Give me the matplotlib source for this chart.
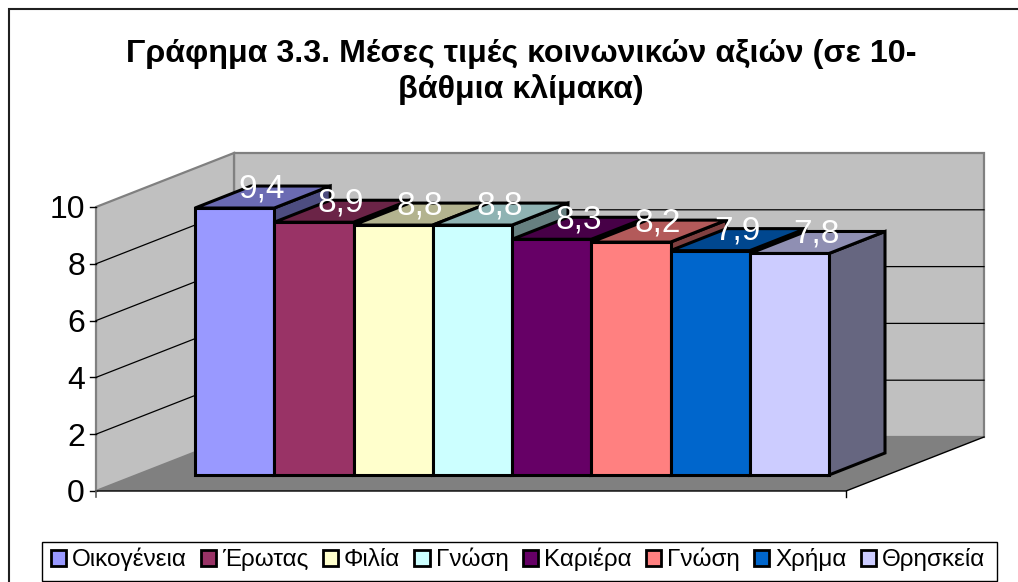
import matplotlib
matplotlib.use("Agg")
import matplotlib.pyplot as plt
from matplotlib.patches import Polygon, Rectangle

plt.rcParams['font.family'] = ['Liberation Sans', 'DejaVu Sans']

# ---- data ----
categories = ['Οικογένεια', 'Έρωτας', 'Φιλία', 'Γνώση', 'Καριέρα', 'Γνώση', 'Χρήμα', 'Θρησκεία']
values = [9.4, 8.9, 8.8, 8.8, 8.3, 8.2, 7.9, 7.8]
value_labels = ['9,4', '8,9', '8,8', '8,8', '8,3', '8,2', '7,9', '7,8']
front_colors = ['#9999FF', '#993366', '#FFFFCC', '#CCFFFF', '#660066', '#FF8080', '#0066CC', '#CCCCFF']
top_colors = ['#6B6BB3', '#6B2447', '#B3B38F', '#8FB3B3', '#470047', '#B35A5A', '#00478F', '#8F8FB3']
side_colors = ['#4D4D80', '#4D1A33', '#808066', '#668080', '#330033', '#804040', '#003366', '#666680']
y_ticks = [0, 2, 4, 6, 8, 10]
title = 'Γράφημα 3.3. Μέσες τιμές κοινωνικών αξιών (σε 10-\nβάθμια κλίμακα)'

W, H = 1018, 582
fig = plt.figure(figsize=(W / 100, H / 100), dpi=100, facecolor='white')
ax = fig.add_axes([0, 0, 1, 1])

# data scale: one category = 79.25 px, one value unit = 28.4 px
CW, VH = 79.25, 28.4
X0, Y0 = 195.0, 475.0            # pixel position of first bar, front bottom
ax.set_xlim(-X0 / CW, (W - X0) / CW)
ax.set_ylim((Y0 - H) / VH, Y0 / VH)
ax.axis('off')

def ux(px):
    return (px - X0) / CW
def uy(py):
    return (Y0 - py) / VH

# plot box expressed in data units
fx0, fx1 = ux(96), ux(846)       # front floor edge
dfx, dfy = 138 / CW, 54 / VH     # full depth of the box
base = uy(491)                   # value 0 at the front of the box
top10 = base + 10                # value 10 at the front of the box
bdx, bdy = 56 / CW, 22 / VH      # bar depth

wall = '#C0C0C0'
edge = '#808080'
# back wall
ax.add_patch(Polygon([(fx0 + dfx, base + dfy), (fx1 + dfx, base + dfy), (fx1 + dfx, top10 + dfy), (fx0 + dfx, top10 + dfy)],
                     closed=True, fc=wall, ec=edge, lw=1.6, zorder=1))
# side wall
ax.add_patch(Polygon([(fx0, base), (fx0 + dfx, base + dfy), (fx0 + dfx, top10 + dfy), (fx0, top10)],
                     closed=True, fc=wall, ec=edge, lw=1.6, zorder=1))
# floor
ax.add_patch(Polygon([(fx0, base), (fx1, base), (fx1 + dfx, base + dfy), (fx0 + dfx, base + dfy)],
                     closed=True, fc='#808080', ec='none', zorder=2))
ax.plot([fx0, fx1, fx1 + dfx], [base, base, base + dfy], color='black', lw=1, zorder=2.1,
        solid_joinstyle='miter')

# gridlines and ticks
for t in y_ticks:
    v = base + t
    if 0 < t < 10:
        ax.plot([fx0, fx0 + dfx, fx1 + dfx], [v, v + dfy, v + dfy], color='black', lw=0.9, zorder=1.5)
    ax.plot([fx0 - 6 / CW, fx0], [v, v], color='black', lw=1, zorder=2.2)
    ax.text(fx0 - 11 / CW, v - 11.5 / VH, str(t), ha='right', va='baseline', fontsize=23, color='black', zorder=6)
ax.plot([fx0, fx0], [base - 6 / VH, base], color='#606060', lw=1.2, zorder=2.2)
ax.plot([fx1, fx1], [base - 6 / VH, base], color='black', lw=1, zorder=2.2)

# bars: left to right, so each next bar covers the side of the previous one
n = len(values)
for i in range(n):
    v = values[i]
    z = 3 + i * 0.01
    ax.add_patch(Polygon([(i + 1, 0), (i + 1 + bdx, bdy), (i + 1 + bdx, v + bdy), (i + 1, v)], closed=True,
                         fc=side_colors[i], ec='black', lw=2.2, zorder=z, joinstyle='miter'))
    ax.add_patch(Polygon([(i, v), (i + 1, v), (i + 1 + bdx, v + bdy), (i + bdx, v + bdy)], closed=True,
                         fc=top_colors[i], ec='black', lw=2.2, zorder=z + 0.001, joinstyle='miter'))
    ax.bar(i, v, width=1, align='edge', color=front_colors[i], edgecolor='black', linewidth=2.2, zorder=z + 0.002)

# value labels
for i, (v, s) in enumerate(zip(values, value_labels)):
    ax.text(i + 0.5 + 27 / CW, v + 11 / VH, s, ha='center', va='baseline', fontsize=24,
            color='white', zorder=7)

# title
ax.text(ux(521), uy(72), title, ha='center', va='center', fontsize=23.2, fontweight='bold', color='black',
        linespacing=1.22, zorder=7)

# outer chart border (its right and bottom sides fall outside the image)
ax.add_patch(Rectangle((ux(9), uy(600)), 1030 / CW, 591 / VH, fc='none', ec='#202020', lw=1.5, zorder=0.5))

# legend: box drawn at its own place, entries laid out by the legend
ax.add_patch(Rectangle((ux(42), uy(580.5)), 955 / CW, 39 / VH, fc='white', ec='black', lw=1.0, zorder=7.5))
handles = [Rectangle((0, 0), 1, 1, fc=c, ec='black', lw=2) for c in front_colors]
leg = ax.legend(handles, categories, ncol=8, loc='lower left', bbox_to_anchor=(42 / W, 1 - 580 / H), fontsize=17.5,
                frameon=False, borderpad=0.35, handlelength=0.62, handleheight=0.62, handletextpad=0.25,
                columnspacing=0.59, borderaxespad=0)
leg.set_zorder(8)

fig.savefig('out.png', dpi=100)
